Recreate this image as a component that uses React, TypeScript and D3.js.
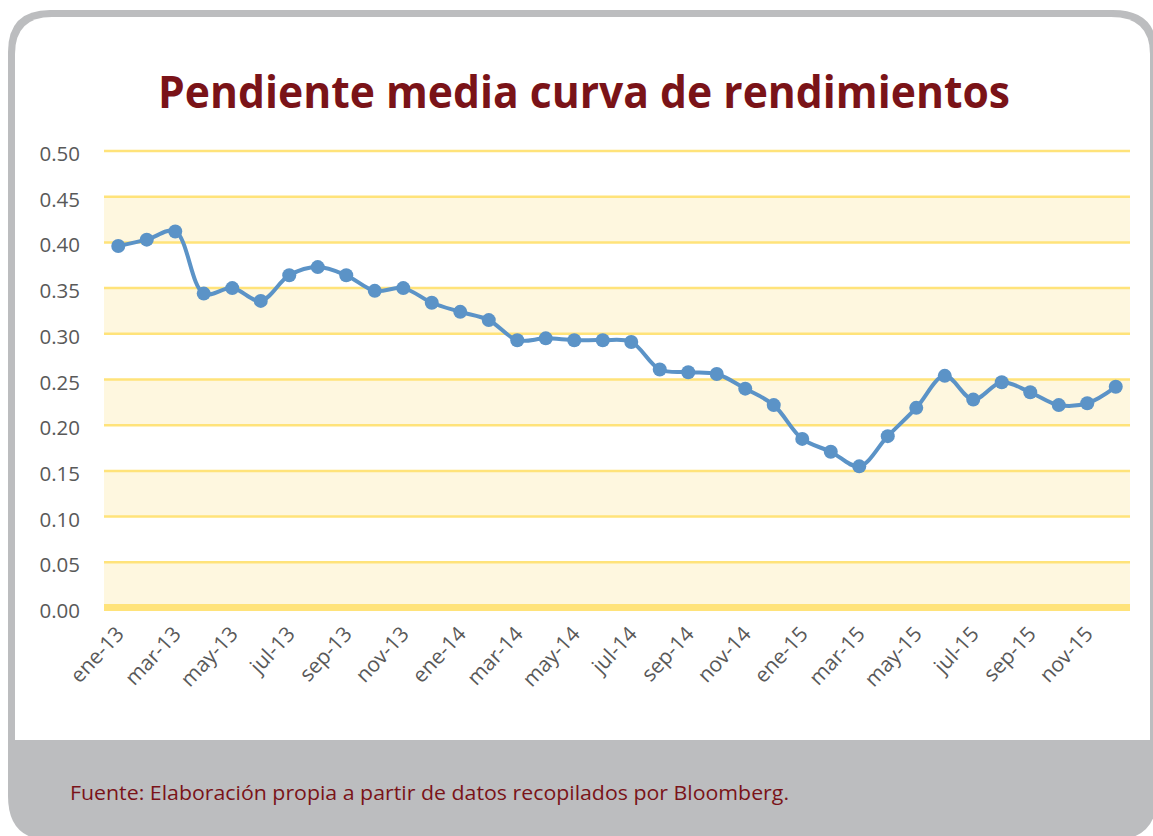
import React from "react";
import * as d3 from "d3";

const months: string[] = [
  "ene-13","feb-13","mar-13","abr-13","may-13","jun-13","jul-13","ago-13","sep-13","oct-13","nov-13","dic-13",
  "ene-14","feb-14","mar-14","abr-14","may-14","jun-14","jul-14","ago-14","sep-14","oct-14","nov-14","dic-14",
  "ene-15","feb-15","mar-15","abr-15","may-15","jun-15","jul-15","ago-15","sep-15","oct-15","nov-15","dic-15",
];
const slope: number[] = [
  0.396, 0.403, 0.412, 0.344, 0.350, 0.336, 0.364, 0.373, 0.364, 0.347, 0.350, 0.334,
  0.324, 0.315, 0.293, 0.295, 0.293, 0.293, 0.291, 0.261, 0.258, 0.256, 0.240, 0.222,
  0.185, 0.171, 0.155, 0.188, 0.219, 0.254, 0.228, 0.247, 0.236, 0.222, 0.224, 0.242,
];
const yTicks: number[] = [0, 0.05, 0.1, 0.15, 0.2, 0.25, 0.3, 0.35, 0.4, 0.45, 0.5];
const title = "Pendiente media curva de rendimientos";
const source = "Fuente: Elaboración propia a partir de datos recopilados por Bloomberg.";

const W = 1153, H = 836;
const L = 104, R = 1130, T = 151, B = 608;

export default function App() {
  const x = d3.scaleBand<string>().domain(months).range([L, R]).padding(0);
  const y = d3.scaleLinear().domain([0, 0.5]).range([B, T]);
  const cx = (m: string) => (x(m) as number) + x.bandwidth() / 2;
  const line = d3.line<number>()
    .x((_, i) => cx(months[i]))
    .y((d) => y(d))
    .curve(d3.curveCatmullRom.alpha(0.5));
  const bands: [number, number][] = [];
  for (let i = 0; i < yTicks.length - 1; i += 2) bands.push([yTicks[i], yTicks[i + 1]]);
  const labelMonths = months.filter((_, i) => i % 2 === 0);
  const grid = yTicks.filter((t) => t > 0);

  const outerPath = `M8,52 Q8,10 50,10 L1113,10 Q1157,10 1157,52 L1157,796 Q1157,840 1113,840 L50,840 Q8,840 8,796 Z`;
  const innerPath = `M15,54 Q15,17 52,17 L1111,17 Q1150,17 1150,54 L1150,740 L15,740 Z`;

  return (
    <svg width={W} height={H} style={{ position: "absolute", left: 0, top: 0 }}>
      <rect x={0} y={0} width={W} height={H} fill="#ffffff" />
      <path d={outerPath} fill="#BCBDBF" />
      <path d={innerPath} fill="#ffffff" />
      <text x={584} y={108} textAnchor="middle" fontFamily="'Open Sans', sans-serif" fontWeight={700}
        fontSize={45} fill="#7A1318" textLength={852} lengthAdjust="spacingAndGlyphs">{title}</text>
      {bands.map(([a, b], i) => (
        <rect key={i} x={L} y={y(b)} width={R - L} height={y(a) - y(b)} fill="#FEF7DF" />
      ))}
      {grid.map((t) => (
        <line key={t} x1={L} x2={R} y1={y(t)} y2={y(t)} stroke="#FFE37A" strokeWidth={2.5} />
      ))}
      <rect x={L} y={y(0) - 4} width={R - L} height={7} fill="#FFE37A" />
      {yTicks.map((t) => (
        <text key={t} x={80} y={y(t) + 10} textAnchor="end" fontFamily="'Open Sans', sans-serif"
          fontSize={20.5} fill="#595959">{t.toFixed(2)}</text>
      ))}
      {labelMonths.map((m) => (
        <text key={m} transform={`translate(${cx(m) + 7},${635}) rotate(-47)`} textAnchor="end"
          fontFamily="'Open Sans', sans-serif" fontSize={21} fill="#595959">{m}</text>
      ))}
      <path d={line(slope) || ""} fill="none" stroke="#5B93C7" strokeWidth={4} />
      {slope.map((v, i) => (
        <circle key={i} cx={cx(months[i])} cy={y(v)} r={7} fill="#5B93C7" />
      ))}
      <text x={70} y={800} fontFamily="'Open Sans', sans-serif" fontSize={20} fill="#7A1318"
        textLength={719} lengthAdjust="spacingAndGlyphs">{source}</text>
    </svg>
  );
}
